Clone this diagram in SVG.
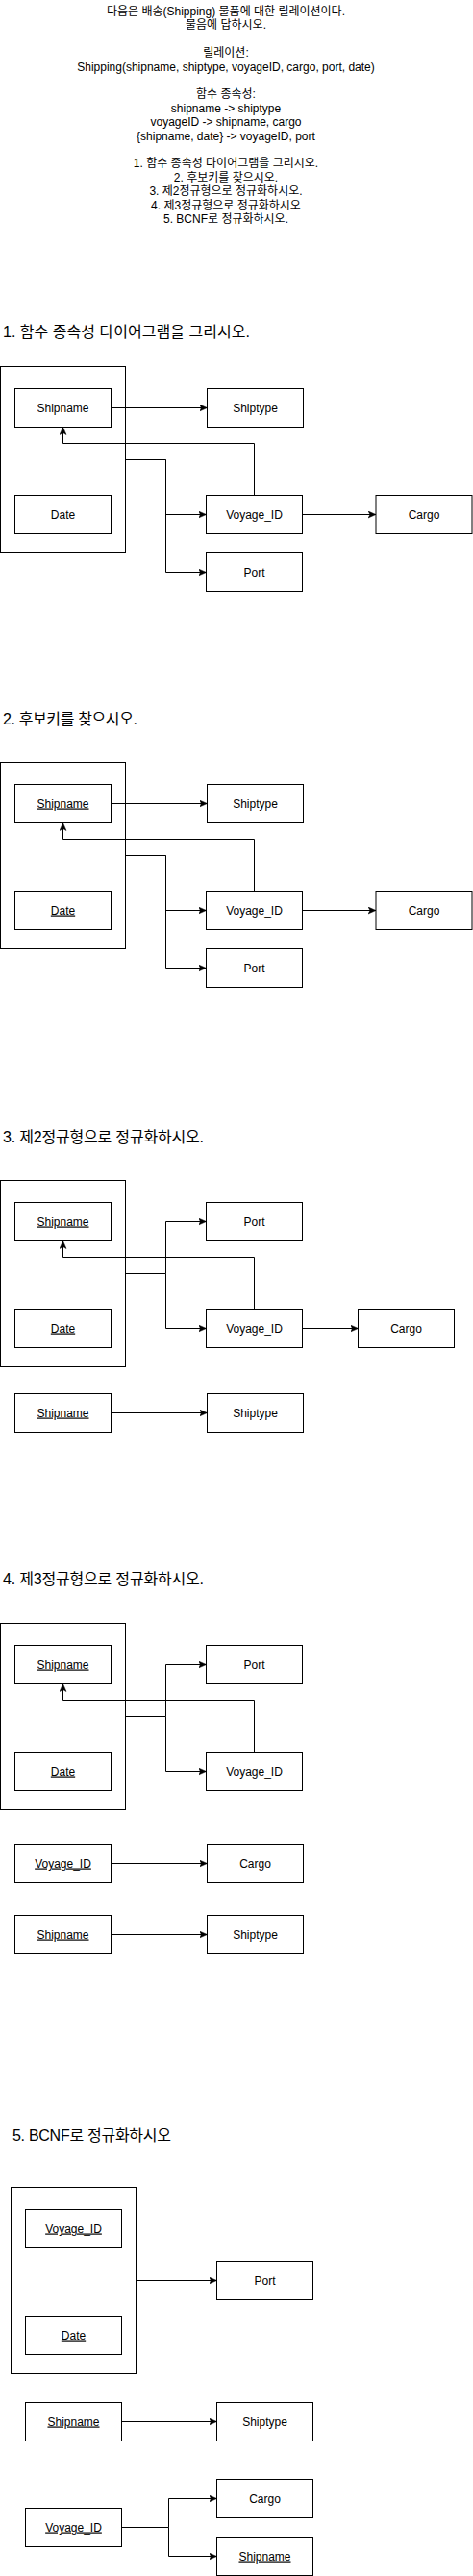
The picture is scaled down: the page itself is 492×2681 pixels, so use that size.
<svg xmlns="http://www.w3.org/2000/svg" width="492" height="2681" viewBox="0 0 492 2681">
<style>
.bx{fill:#fff;stroke:#000;stroke-width:1}
.lb{font-family:"Liberation Sans","Noto Sans CJK KR",sans-serif;font-size:12px;fill:#000;text-anchor:middle}
.u{text-decoration:underline}
.ti{font-family:"Liberation Sans","Noto Sans CJK KR",sans-serif;font-size:16px;fill:#000}
.hd{font-family:"Liberation Sans","Noto Sans CJK KR",sans-serif;font-size:12px;fill:#000;text-anchor:middle}
.e{fill:none;stroke:#000;stroke-width:1}
.ea{fill:none;stroke:#000;stroke-width:1;marker-end:url(#ar)}
</style>
<defs>
<marker id="ar" viewBox="0 0 8 8" refX="8" refY="4" markerWidth="8" markerHeight="8" markerUnits="userSpaceOnUse" orient="auto">
<path d="M0,0.5 L8,4 L0,7.5 L2,4 z" fill="#000" stroke="#000" stroke-width="0.5"/>
</marker>
</defs>
<g id="header">
<text class="hd" x="235" y="16">다음은 배송(Shipping) 물품에 대한 릴레이션이다.</text>
<text class="hd" x="235" y="30.4">물음에 답하시오.</text>
<text class="hd" x="235" y="59.2">릴레이션:</text>
<text class="hd" x="235" y="73.6">Shipping(shipname, shiptype, voyageID, cargo, port, date)</text>
<text class="hd" x="235" y="102.4">함수 종속성:</text>
<text class="hd" x="235" y="116.8">shipname -&gt; shiptype</text>
<text class="hd" x="235" y="131.2">voyageID -&gt; shipname, cargo</text>
<text class="hd" x="235" y="145.6">{shipname, date} -&gt; voyageID, port</text>
<text class="hd" x="235" y="174.4">1. 함수 종속성 다이어그램을 그리시오.</text>
<text class="hd" x="235" y="188.8">2. 후보키를 찾으시오.</text>
<text class="hd" x="235" y="203.2">3. 제2정규형으로 정규화하시오.</text>
<text class="hd" x="235" y="217.6">4. 제3정규형으로 정규화하시오</text>
<text class="hd" x="235" y="232">5. BCNF로 정규화하시오.</text>
</g>

<!-- Section 1 -->
<g id="s1-title"><text class="ti" x="3" y="350.5" textLength="257" lengthAdjust="spacing">1. 함수 종속성 다이어그램을 그리시오.</text></g>
<g id="s1-key"><rect class="bx" x="0.5" y="381.5" width="130" height="194"/></g>
<g id="s1-shipname"><rect class="bx" x="15.5" y="404.5" width="100" height="40"/><text class="lb" x="65.5" y="428.5">Shipname</text></g>
<g id="s1-date"><rect class="bx" x="15.5" y="515.5" width="100" height="40"/><text class="lb" x="65.5" y="539.5">Date</text></g>
<g id="s1-shiptype"><rect class="bx" x="215.5" y="404.5" width="100" height="40"/><text class="lb" x="265.5" y="428.5">Shiptype</text></g>
<g id="s1-voyage"><rect class="bx" x="214.5" y="515.5" width="100" height="40"/><text class="lb" x="264.5" y="539.5">Voyage_ID</text></g>
<g id="s1-cargo"><rect class="bx" x="391" y="515.5" width="100" height="40"/><text class="lb" x="441" y="539.5">Cargo</text></g>
<g id="s1-port"><rect class="bx" x="214.5" y="575.5" width="100" height="40"/><text class="lb" x="264.5" y="599.5">Port</text></g>
<g id="s1-edges">
<path class="ea" d="M115.5 424.5 H215.5"/>
<path class="ea" d="M264.5 515.5 V461.5 H65.5 V444.5"/>
<path class="ea" d="M130.5 478.5 H172.5 V535.5 H214.5"/>
<path class="ea" d="M172.5 478.5 V595.5 H214.5"/>
<path class="ea" d="M314.5 535.5 H391"/>
</g>

<!-- Section 2 -->
<g id="s2-title"><text class="ti" x="3" y="753.5" textLength="140" lengthAdjust="spacing">2. 후보키를 찾으시오.</text></g>
<g id="s2-key"><rect class="bx" x="0.5" y="793.5" width="130" height="194"/></g>
<g id="s2-shipname"><rect class="bx" x="15.5" y="816.5" width="100" height="40"/><text class="lb u" x="65.5" y="840.5">Shipname</text></g>
<g id="s2-date"><rect class="bx" x="15.5" y="927.5" width="100" height="40"/><text class="lb u" x="65.5" y="951.5">Date</text></g>
<g id="s2-shiptype"><rect class="bx" x="215.5" y="816.5" width="100" height="40"/><text class="lb" x="265.5" y="840.5">Shiptype</text></g>
<g id="s2-voyage"><rect class="bx" x="214.5" y="927.5" width="100" height="40"/><text class="lb" x="264.5" y="951.5">Voyage_ID</text></g>
<g id="s2-cargo"><rect class="bx" x="391" y="927.5" width="100" height="40"/><text class="lb" x="441" y="951.5">Cargo</text></g>
<g id="s2-port"><rect class="bx" x="214.5" y="987.5" width="100" height="40"/><text class="lb" x="264.5" y="1011.5">Port</text></g>
<g id="s2-edges">
<path class="ea" d="M115.5 836.5 H215.5"/>
<path class="ea" d="M264.5 927.5 V873.5 H65.5 V856.5"/>
<path class="ea" d="M130.5 890.5 H172.5 V947.5 H214.5"/>
<path class="ea" d="M172.5 890.5 V1007.5 H214.5"/>
<path class="ea" d="M314.5 947.5 H391"/>
</g>

<!-- Section 3 -->
<g id="s3-title"><text class="ti" x="3" y="1188.5" textLength="209" lengthAdjust="spacing">3. 제2정규형으로 정규화하시오.</text></g>
<g id="s3-key"><rect class="bx" x="0.5" y="1228.5" width="130" height="194"/></g>
<g id="s3-shipname"><rect class="bx" x="15.5" y="1251.5" width="100" height="40"/><text class="lb u" x="65.5" y="1275.5">Shipname</text></g>
<g id="s3-date"><rect class="bx" x="15.5" y="1362.5" width="100" height="40"/><text class="lb u" x="65.5" y="1386.5">Date</text></g>
<g id="s3-port"><rect class="bx" x="214.5" y="1251.5" width="100" height="40"/><text class="lb" x="264.5" y="1275.5">Port</text></g>
<g id="s3-voyage"><rect class="bx" x="214.5" y="1362.5" width="100" height="40"/><text class="lb" x="264.5" y="1386.5">Voyage_ID</text></g>
<g id="s3-cargo"><rect class="bx" x="372.5" y="1362.5" width="100" height="40"/><text class="lb" x="422.5" y="1386.5">Cargo</text></g>
<g id="s3-shipname2"><rect class="bx" x="15.5" y="1450.5" width="100" height="40"/><text class="lb u" x="65.5" y="1474.5">Shipname</text></g>
<g id="s3-shiptype"><rect class="bx" x="215.5" y="1450.5" width="100" height="40"/><text class="lb" x="265.5" y="1474.5">Shiptype</text></g>
<g id="s3-edges">
<path class="ea" d="M264.5 1362.5 V1308.5 H65.5 V1291.5"/>
<path class="ea" d="M130.5 1325.5 H172.5 V1271.5 H214.5"/>
<path class="ea" d="M172.5 1325.5 V1382.5 H214.5"/>
<path class="ea" d="M314.5 1382.5 H372.5"/>
<path class="ea" d="M115.5 1470.5 H215.5"/>
</g>

<!-- Section 4 -->
<g id="s4-title"><text class="ti" x="3" y="1648.5" textLength="209" lengthAdjust="spacing">4. 제3정규형으로 정규화하시오.</text></g>
<g id="s4-key"><rect class="bx" x="0.5" y="1689.5" width="130" height="194"/></g>
<g id="s4-shipname"><rect class="bx" x="15.5" y="1712.5" width="100" height="40"/><text class="lb u" x="65.5" y="1736.5">Shipname</text></g>
<g id="s4-date"><rect class="bx" x="15.5" y="1823.5" width="100" height="40"/><text class="lb u" x="65.5" y="1847.5">Date</text></g>
<g id="s4-port"><rect class="bx" x="214.5" y="1712.5" width="100" height="40"/><text class="lb" x="264.5" y="1736.5">Port</text></g>
<g id="s4-voyage"><rect class="bx" x="214.5" y="1823.5" width="100" height="40"/><text class="lb" x="264.5" y="1847.5">Voyage_ID</text></g>
<g id="s4-voyage2"><rect class="bx" x="15.5" y="1919.5" width="100" height="40"/><text class="lb u" x="65.5" y="1943.5">Voyage_ID</text></g>
<g id="s4-cargo"><rect class="bx" x="215.5" y="1919.5" width="100" height="40"/><text class="lb" x="265.5" y="1943.5">Cargo</text></g>
<g id="s4-shipname2"><rect class="bx" x="15.5" y="1993.5" width="100" height="40"/><text class="lb u" x="65.5" y="2017.5">Shipname</text></g>
<g id="s4-shiptype"><rect class="bx" x="215.5" y="1993.5" width="100" height="40"/><text class="lb" x="265.5" y="2017.5">Shiptype</text></g>
<g id="s4-edges">
<path class="ea" d="M264.5 1823.5 V1769.5 H65.5 V1752.5"/>
<path class="ea" d="M130.5 1786.5 H172.5 V1732.5 H214.5"/>
<path class="ea" d="M172.5 1786.5 V1843.5 H214.5"/>
<path class="ea" d="M115.5 1939.5 H215.5"/>
<path class="ea" d="M115.5 2013.5 H215.5"/>
</g>

<!-- Section 5 -->
<g id="s5-title"><text class="ti" x="13" y="2227.5" textLength="165" lengthAdjust="spacing">5. BCNF로 정규화하시오</text></g>
<g id="s5-key"><rect class="bx" x="11.5" y="2276.5" width="130" height="194"/></g>
<g id="s5-voyage"><rect class="bx" x="26.5" y="2299.5" width="100" height="40"/><text class="lb u" x="76.5" y="2323.5">Voyage_ID</text></g>
<g id="s5-date"><rect class="bx" x="26.5" y="2410.5" width="100" height="40"/><text class="lb u" x="76.5" y="2434.5">Date</text></g>
<g id="s5-port"><rect class="bx" x="225.5" y="2353.5" width="100" height="40"/><text class="lb" x="275.5" y="2377.5">Port</text></g>
<g id="s5-shipname"><rect class="bx" x="26.5" y="2500.5" width="100" height="40"/><text class="lb u" x="76.5" y="2524.5">Shipname</text></g>
<g id="s5-shiptype"><rect class="bx" x="225.5" y="2500.5" width="100" height="40"/><text class="lb" x="275.5" y="2524.5">Shiptype</text></g>
<g id="s5-cargo"><rect class="bx" x="225.5" y="2580.5" width="100" height="40"/><text class="lb" x="275.5" y="2604.5">Cargo</text></g>
<g id="s5-voyage2"><rect class="bx" x="26.5" y="2610.5" width="100" height="40"/><text class="lb u" x="76.5" y="2634.5">Voyage_ID</text></g>
<g id="s5-shipname2"><rect class="bx" x="225.5" y="2640.5" width="100" height="40"/><text class="lb u" x="275.5" y="2664.5">Shipname</text></g>
<g id="s5-edges">
<path class="ea" d="M141.5 2373.5 H225.5"/>
<path class="ea" d="M126.5 2520.5 H225.5"/>
<path class="ea" d="M126.5 2630.5 H175.5 V2600.5 H225.5"/>
<path class="ea" d="M175.5 2630.5 V2660.5 H225.5"/>
</g>
</svg>
